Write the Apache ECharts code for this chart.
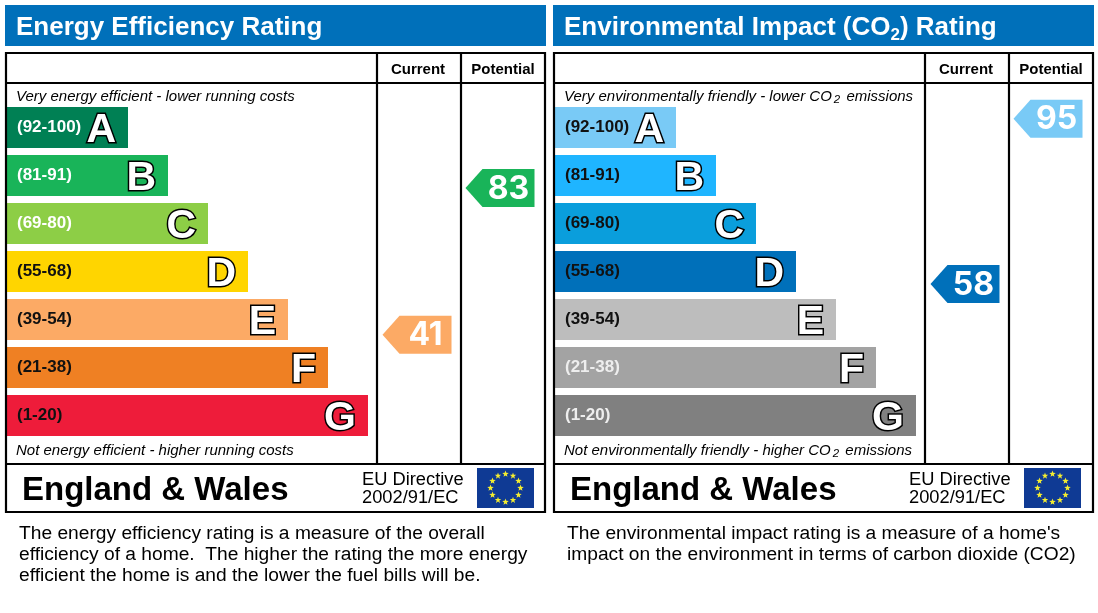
<!DOCTYPE html>
<html><head><meta charset="utf-8">
<script src="https://cdn.jsdelivr.net/npm/echarts@6/dist/echarts.min.js"></script>
<style>html,body{margin:0;padding:0;background:#fff}#c{width:1098px;height:613px}</style>
</head><body><div id="c"></div>
<script>
const ranges = ['(92-100)','(81-91)','(69-80)','(55-68)','(39-54)','(21-38)','(1-20)'];
const letters = ['A','B','C','D','E','F','G'];
const barLengths = [121,161,201,241,281,321,361];
const energyColors = ['#008054','#19b459','#8dce46','#ffd500','#fcaa65','#ef8023','#ee1c3a'];
const envColors = ['#79caf6','#1fb5ff','#0a9edc','#0070ba','#bdbdbd','#a3a3a3','#808080'];
const energyLabelColors = ['#fff','#fff','#fff','#111','#111','#111','#111'];
const envLabelColors = ['#111','#111','#111','#111','#111','#eee','#eee'];
const columns = ['Current','Potential'];
// [column, vertical position in band units, rating, colour index]
const energyMarkers = [[0,4.82,41,4],[1,1.76,83,1]];
const envMarkers = [[0,3.76,58,3],[1,0.32,95,0]];

function marker(colors){
  return function(params, api){
    const p = api.coord([api.value(0), api.value(1)]);
    const c = colors[api.value(3)];
    const l = p[0]-37, b = p[0]-20, r = p[0]+32, t = p[1]-19, d = p[1]+19;
    return {type:'group',children:[
      {type:'polygon',shape:{points:[[l,p[1]],[b,t],[r,t],[r,d],[b,d]]},style:{fill:c}},
      {type:'text',style:{text:String(api.value(2)),x:p[0]+6,y:p[1]+1,align:'center',verticalAlign:'middle',
        fill:'#fff',fontFamily:'Inter',fontWeight:'bold',fontSize:32}}
    ]};
  };
}
function barSeries(g,colors){
  return {type:'bar',xAxisIndex:g,yAxisIndex:g,barWidth:41,silent:true,
    data:barLengths.map((v,i)=>({value:v,itemStyle:{color:colors[i]},
      label:{show:true,position:'insideRight',distance:12,offset:[0,3],formatter:letters[i],color:'#fff',
        fontFamily:'Liberation Sans',fontWeight:'bold',fontSize:41,textBorderColor:'#000',textBorderWidth:3}}))};
}
function catAxis(g,lc){
  return {type:'category',gridIndex:g,inverse:true,data:ranges,z:6,
    axisLine:{show:false},axisTick:{show:false},
    axisLabel:{inside:true,margin:10,fontFamily:'Liberation Sans',fontWeight:'bold',fontSize:17,padding:[3,0,0,0],
      color:(v,i)=>lc[i]}};
}
function panelGraphic(x0,title,top,bottom,body,rich){
  const txt=(text,x,y,font,extra)=>({type:'text',style:Object.assign({text,x,y,font,fill:'#000',verticalAlign:'middle'},extra||{}),z:10});
  const line=(x1,y1,x2,y2)=>({type:'line',shape:{x1,y1,x2,y2},style:{stroke:'#000',lineWidth:2.2},z:9});
  const dx = x0 ? x0-1 : 0;
  const els=[
    {type:'rect',shape:{x:x0+5,y:5,width:541,height:41},style:{fill:'#0070ba'},z:1},
    {type:'rect',shape:{x:x0+6,y:53,width:539,height:459},style:{fill:'none',stroke:'#000',lineWidth:2.2},z:9},
    line(x0+6,83,x0+545,83),line(x0+6,464,x0+545,464),
    line(x0+377,53,x0+377,464),line(x0+461,53,x0+461,464),
    txt(title,x0+16,28,'bold 26px "Liberation Sans"',{fill:'#fff',rich:{m:{font:'bold 26px "Liberation Sans"',fill:'#fff',lineHeight:32},s:{font:'bold 17px "Liberation Sans"',fill:'#fff',lineHeight:26,verticalAlign:'bottom'}}}),
    txt('Current',x0+418,70,'bold 15px "Liberation Sans"',{align:'center'}),
    txt('Potential',x0+503,70,'bold 15px "Liberation Sans"',{align:'center'}),
    txt(top,x0+16,97,'italic 15px "Liberation Sans"',{rich}),
    txt(bottom,x0+16,451,'italic 15px "Liberation Sans"',{rich}),
    txt('England & Wales',x0+22,491,'bold 33px "Liberation Sans"'),
    txt('EU Directive',dx+362,480,'18.3px "Liberation Sans"'),
    txt('2002/91/EC',dx+362,498,'18.3px "Liberation Sans"'),
    {type:'rect',shape:{x:dx+477,y:468,width:57,height:40},style:{fill:'#0f3a94'},z:10}
  ];
  for(let i=0;i<12;i++){
    const a=i*Math.PI/6, cx=dx+505.5+15*Math.sin(a), cy=488-14*Math.cos(a), pts=[];
    for(let k=0;k<10;k++){const r=k%2?1.4:3.4,b=k*Math.PI/5;pts.push([cx+r*Math.sin(b),cy-r*Math.cos(b)]);}
    els.push({type:'polygon',shape:{points:pts},style:{fill:'#f5ee30'},z:11});
  }
  body.forEach((t,i)=>els.push(txt(t,x0+19,534+i*21,'19.2px "Liberation Sans"')));
  return els;
}
const richIt={m:{font:'italic 15px "Liberation Sans"',fill:'#000',lineHeight:18},s:{font:'italic 11.5px "Liberation Sans"',fill:'#000',lineHeight:14,verticalAlign:'bottom',padding:[0,2,0,2]}};
const graphics=[].concat(
  panelGraphic(0,'{m|Energy Efficiency Rating}','Very energy efficient - lower running costs','Not energy efficient - higher running costs',
   ['The energy efficiency rating is a measure of the overall','efficiency of a home.  The higher the rating the more energy','efficient the home is and the lower the fuel bills will be.'],richIt),
  panelGraphic(548,'{m|Environmental Impact (CO}{s|2}{m|) Rating}','{m|Very environmentally friendly - lower CO}{s|2}{m| emissions}','{m|Not environmentally friendly - higher CO}{s|2}{m| emissions}',
   ['The environmental impact rating is a measure of a home\'s','impact on the environment in terms of carbon dioxide (CO2)'],richIt)
);
const option={
  backgroundColor:'#fff',animation:false,
  grid:[
    {left:7,top:103.5,width:370,height:336},
    {left:555,top:103.5,width:370,height:336},
    {left:378,top:103.5,width:166,height:336},
    {left:926,top:103.5,width:166,height:336}
  ],
  xAxis:[
    {type:'value',gridIndex:0,min:0,max:370,show:false},
    {type:'value',gridIndex:1,min:0,max:370,show:false},
    {type:'category',gridIndex:2,data:columns,show:false},
    {type:'category',gridIndex:3,data:columns,show:false}
  ],
  yAxis:[
    catAxis(0,energyLabelColors),
    catAxis(1,envLabelColors),
    {type:'value',gridIndex:2,min:0,max:7,inverse:true,show:false},
    {type:'value',gridIndex:3,min:0,max:7,inverse:true,show:false}
  ],
  series:[
    barSeries(0,energyColors),
    barSeries(1,envColors),
    {type:'custom',xAxisIndex:2,yAxisIndex:2,data:energyMarkers,renderItem:marker(energyColors),silent:true},
    {type:'custom',xAxisIndex:3,yAxisIndex:3,data:envMarkers,renderItem:marker(envColors),silent:true}
  ],
  graphic:graphics
};
const chart=echarts.init(document.getElementById('c'),null,{renderer:'canvas'});
chart.setOption(option);
</script></body></html>
